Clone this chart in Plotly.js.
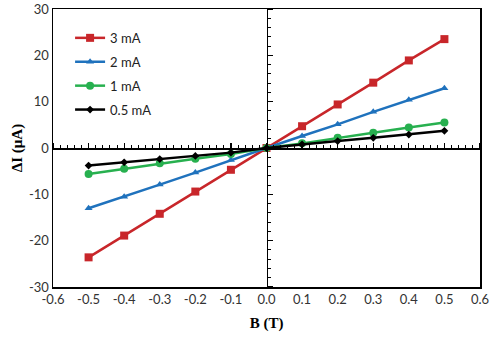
<!DOCTYPE html>
<html>
<head>
<meta charset="utf-8">
<script src="https://cdn.plot.ly/plotly-3.0.1.min.js"></script>
<style>html,body{margin:0;padding:0;background:#fff;}#chart{width:495px;height:337px;}</style>
</head>
<body>
<div id="chart"></div>
<script>
const B = [-0.5, -0.4, -0.3, -0.2, -0.1, 0, 0.1, 0.2, 0.3, 0.4, 0.5];
const seriesNames = ["3 mA", "2 mA", "1 mA", "0.5 mA"];
const dI_3mA = [-23.6, -18.9, -14.2, -9.4, -4.7, 0, 4.7, 9.4, 14.1, 18.9, 23.5];
const dI_2mA = [-13.0, -10.5, -7.9, -5.3, -2.6, 0, 2.6, 5.1, 7.8, 10.4, 12.9];
const dI_1mA = [-5.6, -4.5, -3.3, -2.3, -1.3, 0, 1.0, 2.2, 3.3, 4.4, 5.5];
const dI_05mA = [-3.8, -3.1, -2.4, -1.7, -1.0, 0, 0.8, 1.5, 2.2, 2.9, 3.7];
const xTicks = [-0.6, -0.5, -0.4, -0.3, -0.2, -0.1, 0.0, 0.1, 0.2, 0.3, 0.4, 0.5, 0.6];
const xTickText = ["-0.6", "-0.5", "-0.4", "-0.3", "-0.2", "-0.1", "0.0", "0.1", "0.2", "0.3", "0.4", "0.5", "0.6"];
const yTicks = [-30, -20, -10, 0, 10, 20, 30];
const yTickText = ["-30", "-20", "-10", "0", "10", "20", "30"];

const colors = ["#c8262a", "#1f72bd", "#27b04f", "#000000"];
const symbols = ["square", "triangle-up", "circle", "diamond"];
const sizes = [8, 7, 8, 6];
const axesFor = [["x", "y"], ["x", "y"], ["x", "y"], ["x2", "y2"]];
const data = [dI_3mA, dI_2mA, dI_1mA, dI_05mA].map((ys, i) => ({
  x: B, y: ys, name: seriesNames[i], type: "scatter", mode: "lines+markers",
  legendgroup: "g" + i,
  line: {color: colors[i], width: 2.5},
  marker: {color: colors[i], symbol: symbols[i], size: sizes[i]},
  xaxis: axesFor[i][0], yaxis: axesFor[i][1]
}));

const font = {family: "Lato, 'Open Sans', sans-serif", size: 13, color: "#333"};
const layout = {
  width: 495, height: 337,
  margin: {l: 53, r: 15, t: 9, b: 50},
  paper_bgcolor: "#fff", plot_bgcolor: "#fff",
  font: font,
  showlegend: true,
  legend: {x: 0.04, y: 0.95, xanchor: "left", yanchor: "top", bgcolor: "rgba(0,0,0,0)",
           font: {family: "Lato, 'Open Sans', sans-serif", size: 13, color: "#222"},
           tracegroupgap: 4, itemwidth: 30, traceorder: "grouped"},
  xaxis: {
    range: [-0.6, 0.6], tickvals: xTicks, ticktext: xTickText,
    showgrid: false, zeroline: false, showline: true, mirror: true,
    linecolor: "#000", linewidth: 1.5, ticks: "", ticklen: 0,
    title: {text: "B (T)", font: {family: "'Liberation Serif', serif", size: 15, color: "#000", weight: "bold"}, standoff: 11}
  },
  yaxis: {
    range: [-30, 30], tickvals: yTicks, ticktext: yTickText,
    showgrid: false, zeroline: false, showline: true, mirror: true,
    linecolor: "#000", linewidth: 1.5, ticks: "", ticklen: 0,
    title: {text: "ΔI (μA)", font: {family: "'Liberation Serif', serif", size: 15, color: "#000", weight: "bold"}, standoff: 2}
  },
  xaxis2: {
    overlaying: "x", anchor: "free", position: 0.5, side: "top",
    range: [-0.6, 0.6], dtick: 0.1, tick0: 0, showticklabels: false,
    showgrid: false, zeroline: false, showline: true, linecolor: "#000", linewidth: 1.5,
    ticks: "outside", ticklen: 5, tickwidth: 1.2, tickcolor: "#000",
    minor: {dtick: 0.02, ticks: "outside", ticklen: 3, tickwidth: 1, tickcolor: "#000", showgrid: false}
  },
  yaxis2: {
    overlaying: "y", anchor: "free", position: 0.5, side: "right",
    range: [-30, 30], dtick: 10, tick0: 0, showticklabels: false,
    showgrid: false, zeroline: false, showline: true, linecolor: "#000", linewidth: 1.5,
    ticks: "outside", ticklen: 5, tickwidth: 1.2, tickcolor: "#000",
    minor: {dtick: 2, ticks: "outside", ticklen: 3, tickwidth: 1, tickcolor: "#000", showgrid: false}
  }
};
Plotly.newPlot("chart", data, layout, {displayModeBar: false, staticPlot: true});
</script>
</body>
</html>
